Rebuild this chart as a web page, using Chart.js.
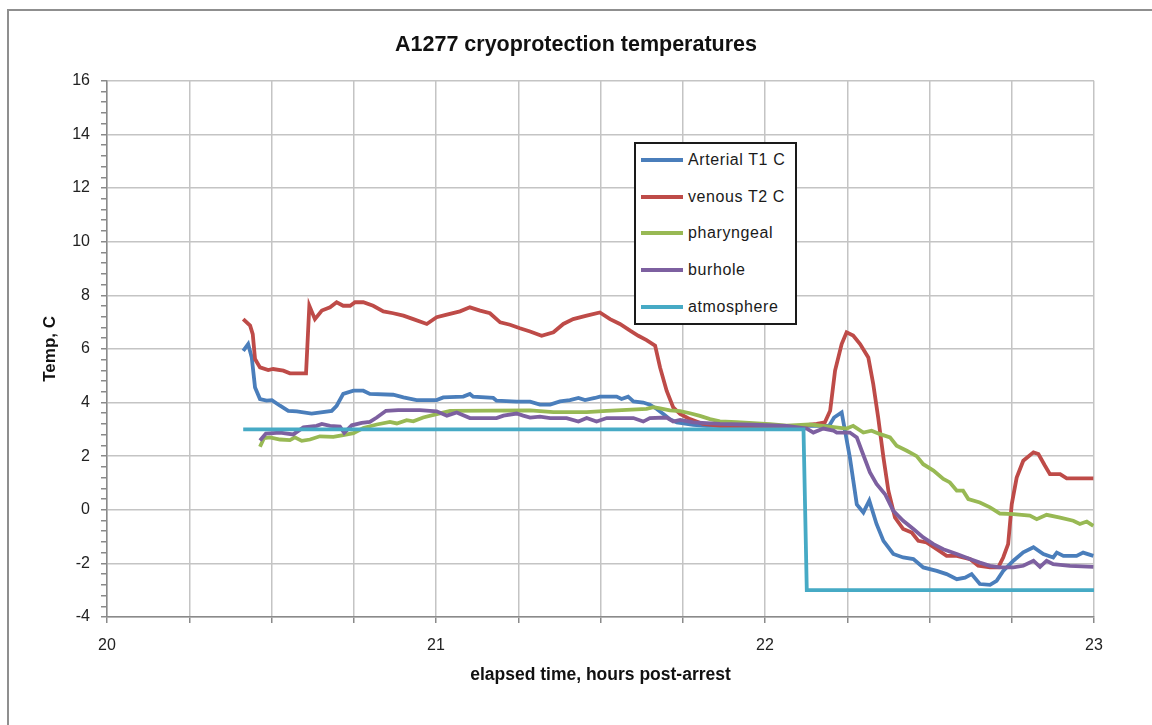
<!DOCTYPE html>
<html lang="en">
<head>
<meta charset="UTF-8">
<title>A1277 cryoprotection temperatures</title>
<script src="https://cdn.jsdelivr.net/npm/chart.js"></script>
<style>
  body { margin: 0; background: #fff; }
  .quadro { position: relative; width: 1152px; height: 725px; overflow: hidden; background: #fff; }
  .moldura { position: absolute; left: 7px; top: 9px; width: 1300px; height: 900px;
             border-left: 2px solid #8f8f8f; border-top: 2px solid #8f8f8f; }
  #grafico { position: absolute; left: 0; top: 0; }
  .legenda { position: absolute; left: 634px; top: 142px; width: 163px; height: 183px;
             box-sizing: border-box; border: 2px solid #1a1a1a; background: #fff;
             font-family: "Liberation Sans", Arial, sans-serif; font-size: 16px; color: #1a1a1a; }
  .legenda .item { position: absolute; left: 5px; height: 20px; display: flex; align-items: center;
                   white-space: nowrap; letter-spacing: 0.6px; }
  .legenda .linha { width: 42px; height: 4px; margin-right: 5px; }
</style>
</head>
<body>
<div class="quadro">
  <div class="moldura"></div>
  <canvas id="grafico" width="1152" height="725"></canvas>
  <div class="legenda" id="legenda"></div>
</div>

<script>
// elapsed time (hours post-arrest) and temperature (C)
const arterialTempo = [20.414, 20.429, 20.440, 20.450, 20.465, 20.485, 20.501, 20.526, 20.551, 20.577, 20.622, 20.683, 20.698, 20.718, 20.749, 20.779, 20.799, 20.870, 20.901, 20.941, 21.002, 21.022, 21.083, 21.103, 21.113, 21.174, 21.184, 21.245, 21.286, 21.316, 21.347, 21.377, 21.407, 21.433, 21.453, 21.483, 21.498, 21.549, 21.564, 21.584, 21.600, 21.630, 21.650, 21.671, 21.691, 21.711, 21.732, 21.752, 21.782, 21.823, 22.106, 22.195, 22.210, 22.233, 22.258, 22.279, 22.299, 22.317, 22.339, 22.360, 22.390, 22.420, 22.451, 22.481, 22.522, 22.552, 22.583, 22.608, 22.628, 22.653, 22.684, 22.704, 22.724, 22.755, 22.785, 22.816, 22.846, 22.876, 22.887, 22.907, 22.947, 22.967, 22.998];
const arterialValores = [5.93, 6.18, 5.68, 4.56, 4.13, 4.07, 4.09, 3.88, 3.69, 3.67, 3.59, 3.69, 3.88, 4.32, 4.44, 4.44, 4.32, 4.29, 4.19, 4.09, 4.09, 4.19, 4.22, 4.32, 4.22, 4.17, 4.07, 4.03, 4.03, 3.92, 3.92, 4.04, 4.09, 4.17, 4.09, 4.17, 4.22, 4.22, 4.13, 4.22, 4.04, 4.00, 3.92, 3.76, 3.57, 3.38, 3.26, 3.22, 3.17, 3.13, 3.13, 3.13, 3.44, 3.63, 1.95, 0.20, -0.10, 0.34, -0.53, -1.16, -1.65, -1.78, -1.84, -2.15, -2.28, -2.40, -2.59, -2.53, -2.40, -2.77, -2.80, -2.65, -2.28, -1.90, -1.59, -1.40, -1.65, -1.78, -1.60, -1.72, -1.72, -1.60, -1.72];

const venosoTempo = [20.414, 20.435, 20.443, 20.450, 20.465, 20.490, 20.505, 20.536, 20.556, 20.605, 20.615, 20.632, 20.653, 20.678, 20.698, 20.718, 20.739, 20.754, 20.779, 20.809, 20.840, 20.870, 20.901, 20.931, 20.972, 21.002, 21.033, 21.073, 21.103, 21.134, 21.164, 21.195, 21.225, 21.255, 21.286, 21.321, 21.357, 21.387, 21.417, 21.458, 21.498, 21.529, 21.559, 21.590, 21.615, 21.640, 21.666, 21.681, 21.701, 21.721, 21.742, 21.772, 21.812, 21.863, 22.106, 22.157, 22.182, 22.198, 22.213, 22.233, 22.248, 22.268, 22.289, 22.314, 22.329, 22.344, 22.360, 22.375, 22.395, 22.420, 22.446, 22.466, 22.491, 22.522, 22.552, 22.583, 22.623, 22.648, 22.684, 22.709, 22.724, 22.739, 22.750, 22.765, 22.785, 22.816, 22.831, 22.851, 22.866, 22.897, 22.917, 22.998];
const venosoValores = [7.11, 6.87, 6.55, 5.62, 5.31, 5.21, 5.25, 5.19, 5.09, 5.09, 7.61, 7.11, 7.43, 7.55, 7.74, 7.61, 7.61, 7.74, 7.74, 7.61, 7.40, 7.33, 7.24, 7.11, 6.93, 7.18, 7.28, 7.40, 7.55, 7.43, 7.33, 6.99, 6.90, 6.77, 6.65, 6.49, 6.62, 6.93, 7.11, 7.24, 7.36, 7.11, 6.93, 6.68, 6.49, 6.33, 6.12, 5.31, 4.44, 3.82, 3.57, 3.38, 3.20, 3.13, 3.13, 3.20, 3.26, 3.69, 5.19, 6.18, 6.62, 6.50, 6.18, 5.68, 4.69, 3.44, 1.95, 0.71, -0.29, -0.72, -0.85, -1.16, -1.22, -1.47, -1.72, -1.72, -1.84, -2.09, -2.15, -2.15, -1.78, -1.28, 0.21, 1.20, 1.83, 2.14, 2.08, 1.64, 1.33, 1.33, 1.17, 1.17];

const faringeTempo = [20.465, 20.477, 20.495, 20.526, 20.556, 20.571, 20.592, 20.617, 20.647, 20.688, 20.718, 20.749, 20.779, 20.820, 20.860, 20.881, 20.911, 20.931, 20.961, 21.002, 21.043, 21.286, 21.357, 21.458, 21.519, 21.640, 21.661, 21.681, 21.711, 21.742, 21.772, 21.802, 21.833, 21.863, 21.914, 21.964, 22.015, 22.066, 22.137, 22.248, 22.268, 22.299, 22.324, 22.350, 22.380, 22.400, 22.431, 22.461, 22.481, 22.512, 22.542, 22.562, 22.583, 22.602, 22.618, 22.653, 22.684, 22.714, 22.755, 22.805, 22.826, 22.856, 22.897, 22.937, 22.957, 22.978, 22.998];
const faringeValores = [2.35, 2.67, 2.70, 2.62, 2.60, 2.70, 2.57, 2.62, 2.74, 2.72, 2.78, 2.86, 3.05, 3.18, 3.28, 3.22, 3.34, 3.30, 3.44, 3.57, 3.69, 3.71, 3.64, 3.64, 3.69, 3.76, 3.83, 3.78, 3.71, 3.68, 3.60, 3.50, 3.38, 3.30, 3.27, 3.23, 3.19, 3.14, 3.18, 3.03, 3.13, 2.88, 2.95, 2.82, 2.70, 2.39, 2.20, 2.00, 1.70, 1.46, 1.15, 1.02, 0.71, 0.71, 0.40, 0.27, 0.09, -0.14, -0.16, -0.22, -0.35, -0.19, -0.29, -0.41, -0.53, -0.44, -0.60];

const burholeTempo = [20.465, 20.483, 20.526, 20.566, 20.597, 20.637, 20.653, 20.678, 20.708, 20.721, 20.744, 20.774, 20.799, 20.820, 20.848, 20.885, 20.951, 21.002, 21.033, 21.063, 21.103, 21.184, 21.205, 21.245, 21.265, 21.286, 21.316, 21.347, 21.397, 21.433, 21.458, 21.488, 21.519, 21.600, 21.630, 21.650, 21.701, 21.721, 21.742, 21.782, 21.863, 21.964, 22.066, 22.127, 22.147, 22.177, 22.208, 22.218, 22.258, 22.279, 22.294, 22.319, 22.339, 22.365, 22.390, 22.420, 22.451, 22.481, 22.512, 22.542, 22.583, 22.623, 22.653, 22.684, 22.714, 22.755, 22.785, 22.816, 22.836, 22.856, 22.876, 22.927, 22.998];
const burholeValores = [2.58, 2.84, 2.88, 2.81, 3.07, 3.13, 3.20, 3.13, 3.10, 2.87, 3.15, 3.24, 3.28, 3.44, 3.69, 3.72, 3.72, 3.67, 3.51, 3.63, 3.42, 3.42, 3.51, 3.59, 3.51, 3.44, 3.47, 3.42, 3.42, 3.29, 3.42, 3.29, 3.42, 3.42, 3.29, 3.42, 3.44, 3.29, 3.35, 3.26, 3.20, 3.17, 3.13, 3.03, 2.88, 3.03, 2.95, 2.88, 2.88, 2.70, 2.20, 1.39, 0.96, 0.58, -0.04, -0.41, -0.72, -1.03, -1.28, -1.47, -1.65, -1.84, -1.97, -2.09, -2.15, -2.15, -2.09, -1.90, -2.13, -1.90, -2.03, -2.09, -2.13];

const atmosferaTempo = [20.414, 22.117, 22.127, 23.0];
const atmosferaValores = [3.0, 3.0, -3.0, -3.0];

const nomes = ['Arterial T1 C', 'venous T2 C', 'pharyngeal', 'burhole', 'atmosphere'];
const cores = ['#4a7ebb', '#be4b48', '#98b954', '#7d60a0', '#46aac5'];

function pontos(tempo, valores) {
    return tempo.map(function (t, i) { return { x: t, y: valores[i] }; });
}

const series = [
    pontos(arterialTempo, arterialValores),
    pontos(venosoTempo, venosoValores),
    pontos(faringeTempo, faringeValores),
    pontos(burholeTempo, burholeValores),
    pontos(atmosferaTempo, atmosferaValores)
];

const fonteTexto = '"Liberation Sans", Arial, sans-serif';

function ehMaior(v) {
    return Math.abs(v / 2 - Math.round(v / 2)) < 1e-6;
}

const ctx = document.getElementById('grafico');
const grafico = new Chart(ctx, {
    type: 'line',
    data: {
        datasets: series.map(function (dados, i) {
            return {
                label: nomes[i],
                data: dados,
                borderColor: cores[i],
                backgroundColor: cores[i],
                borderWidth: 3.8,
                pointRadius: 0,
                tension: 0,
                fill: false,
                order: series.length - i
            };
        })
    },
    options: {
        responsive: false,
        animation: false,
        devicePixelRatio: 1,
        layout: { padding: 0 },
        plugins: {
            legend: { display: false },
            tooltip: { enabled: false },
            title: {
                display: true,
                text: 'A1277 cryoprotection temperatures',
                color: '#111',
                font: { family: fonteTexto, size: 21.5, weight: 'bold' },
                padding: { top: 32, bottom: 23 }
            }
        },
        scales: {
            x: {
                type: 'linear',
                min: 20,
                max: 23,
                afterFit: function (s) { s.height = 108; },
                ticks: {
                    stepSize: 0.25,
                    maxTicksLimit: 100,
                    autoSkip: false,
                    maxRotation: 0,
                    padding: 13,
                    color: '#222',
                    font: { family: fonteTexto, size: 16 },
                    callback: function (v) { return Number.isInteger(v) ? v : ''; }
                },
                grid: { color: '#c4c4c4', lineWidth: 1.5, tickColor: '#8a8a8a', tickLength: 6 },
                border: { color: '#8a8a8a', width: 1.5 },
                title: {
                    display: true,
                    text: 'elapsed time, hours post-arrest',
                    color: '#111',
                    font: { family: fonteTexto, size: 17.5, weight: 'bold' },
                    padding: { top: 39, bottom: 39 }
                }
            },
            y: {
                min: -4,
                max: 16,
                afterFit: function (s) { s.width = 107; },
                ticks: {
                    stepSize: 0.4,
                    maxTicksLimit: 100,
                    autoSkip: false,
                    padding: 11,
                    color: '#222',
                    font: { family: fonteTexto, size: 16 },
                    callback: function (v) { return ehMaior(v) ? Math.round(v) : ''; }
                },
                grid: {
                    color: function (c) { return c.tick && ehMaior(c.tick.value) ? '#c4c4c4' : 'rgba(0,0,0,0)'; },
                    lineWidth: 1.5,
                    tickColor: '#8a8a8a',
                    tickLength: 6
                },
                border: { color: '#8a8a8a', width: 1.5 },
                title: {
                    display: true,
                    text: 'Temp, C',
                    color: '#111',
                    font: { family: fonteTexto, size: 17, weight: 'bold' },
                    padding: { top: 40, bottom: 40 }
                }
            },
            // empty right-hand strip so the plot ends at 23 like the original
            margem: {
                type: 'linear',
                position: 'right',
                afterFit: function (s) { s.width = 58; },
                ticks: { display: false },
                grid: { display: false },
                border: { display: false }
            }
        }
    }
});

// legend box drawn in HTML from the datasets
const legenda = document.getElementById('legenda');
grafico.data.datasets.forEach(function (ds, i) {
    const item = document.createElement('div');
    item.className = 'item';
    item.style.top = (6 + i * 36.7) + 'px';
    item.innerHTML = '<span class="linha" style="background:' + ds.borderColor + '"></span>' + ds.label;
    legenda.appendChild(item);
});
</script>
</body>
</html>
